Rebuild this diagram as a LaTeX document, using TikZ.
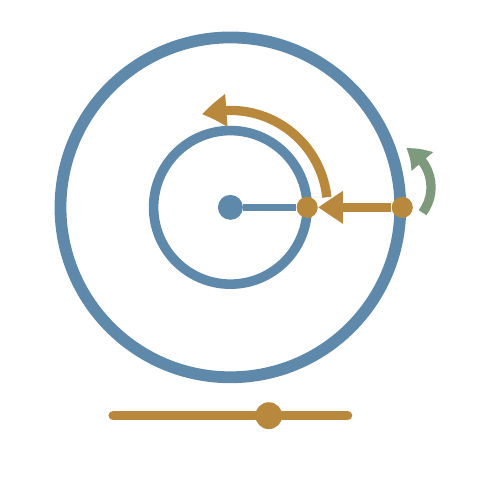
\documentclass[tikz,border=0pt]{standalone}
\usepackage{tikz}
\usetikzlibrary{arrows.meta,bending}
\definecolor{wheelblue}{HTML}{5E89AA}
\definecolor{gold}{HTML}{B8893C}
\definecolor{sage}{HTML}{7D9A7C}

\begin{document}
\begin{tikzpicture}[x=0.02cm,y=0.02cm,
                    dot/.style={circle,inner sep=0pt,minimum size=0.44cm},
                    ring/.style={draw=wheelblue},
                    goldline/.style={gold,line width=5.5pt},
                    head/.style={-{Triangle[length=14.7pt,width=18.5pt,bend]}}]
  \useasboundingbox (0,0) rectangle (500,500);

  \coordinate (O) at (240,284);
  \draw[ring,line width=7pt] (O) circle[radius=177];
  \draw[ring,line width=5.7pt] (O) circle[radius=80];

  \node[dot,fill=wheelblue,minimum size=0.52cm] (hub)  at (O)       {};
  \node[dot,fill=gold]                          (pin)  at (320,284) {};
  \node[dot,fill=gold]                          (rim)  at (419,284) {};
  \node[dot,fill=gold,minimum size=0.56cm]      (knob) at (280,67)  {};
  \coordinate (slideL) at (118,67);
  \coordinate (slideR) at (362,67);
  \coordinate (spin)   at (405,305);

  \draw[wheelblue,line width=4.5pt] (hub) -- (pin);
  \draw[goldline,head] (rim) -- (pin);
  \draw[goldline,head] (O) ++(6:101) arc[start angle=6,end angle=107,radius=101];
  \draw[sage,line width=5.5pt,-{Triangle[length=12.5pt,width=16pt,bend]}]
        (spin) ++(-37:44) arc[start angle=-37,end angle=66,radius=44];
  \draw[gold,line width=5.7pt,line cap=round] (slideL) -- (knob) -- (slideR);
\end{tikzpicture}
\end{document}
